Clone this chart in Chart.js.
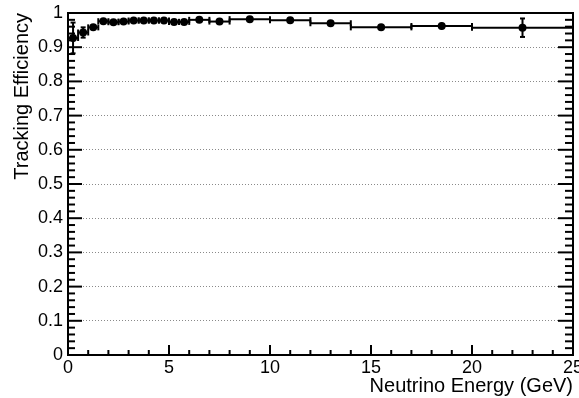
<!DOCTYPE html>
<html><head><meta charset="utf-8">
<script src="https://cdn.jsdelivr.net/npm/chart.js@4/dist/chart.umd.min.js"></script>
<style>html,body{margin:0;padding:0;background:#fff;overflow:hidden}</style>
</head><body>
<canvas id="c" width="579" height="398"></canvas>
<script>
// Bin edges (GeV)
const binLow  = [0,0.5,1,1.5,2,2.5,3,3.5,4,4.5,5,5.5,6,7,8,10,12,14,17,20];
const binHigh = [0.5,1,1.5,2,2.5,3,3.5,4,4.5,5,5.5,6,7,8,10,12,14,17,20,25];
const binCenter = [0.25,0.75,1.25,1.75,2.25,2.75,3.25,3.75,4.25,4.75,5.25,5.75,6.5,7.5,9,11,13,15.5,18.5,22.5];
// Tracking efficiency and its error
const efficiency = [0.927,0.943,0.958,0.976,0.973,0.975,0.978,0.978,0.978,0.978,0.974,0.974,0.980,0.975,0.982,0.979,0.970,0.958,0.962,0.957];
const effError   = [0.045,0.015,0.008,0.005,0.004,0.004,0.004,0.004,0.004,0.004,0.004,0.004,0.004,0.004,0.004,0.005,0.008,0.008,0.010,0.027];
// Tick labels
const xTickLabels = ['0','5','10','15','20','25'];
const yTickLabels = ['0','0.1','0.2','0.3','0.4','0.5','0.6','0.7','0.8','0.9','1'];

const FONT = 'Liberation Sans, Arial, Helvetica, sans-serif';

function line(ctx,x1,y1,x2,y2){ctx.beginPath();ctx.moveTo(x1,y1);ctx.lineTo(x2,y2);ctx.stroke();}

const rootStyle = {
  id: 'rootStyle',
  beforeDatasetsDraw(chart){
    const {ctx, scales:{x,y}} = chart;
    ctx.save();
    ctx.strokeStyle = '#000';
    ctx.lineWidth = 2;
    for (let i=0;i<binCenter.length;i++){
      const py = y.getPixelForValue(efficiency[i]);
      const x1 = x.getPixelForValue(binLow[i]);
      const x2 = x.getPixelForValue(binHigh[i]);
      const xc = x.getPixelForValue(binCenter[i]);
      line(ctx,x1,py,x2,py);
      line(ctx,x1,py-3,x1,py+3);
      line(ctx,x2,py-3,x2,py+3);
      const yHi = y.getPixelForValue(Math.min(1, efficiency[i]+effError[i]));
      const yLo = y.getPixelForValue(efficiency[i]-effError[i]);
      line(ctx,xc,yHi,xc,yLo);
      if (yLo-py > 5){
        line(ctx,xc-2.5,yHi,xc+2.5,yHi);
        line(ctx,xc-2.5,yLo,xc+2.5,yLo);
      }
    }
    ctx.restore();
  },
  afterDraw(chart){
    const {ctx, chartArea:{left,right,top,bottom}, scales:{x,y}} = chart;
    ctx.save();
    ctx.strokeStyle = '#000';
    ctx.lineWidth = 2;
    for (let i=0;i<=50;i++){
      const py = y.getPixelForValue(i/50);
      const major = i%5===0;
      line(ctx,left,py,left+(major?14:7),py);
      line(ctx,right,py,right-(major?15:8),py);
    }
    for (let i=0;i<=25;i++){
      const px = x.getPixelForValue(i);
      const major = i%5===0;
      line(ctx,px,bottom,px,bottom-(major?10:5));
    }
    ctx.strokeRect(left,top,right-left,bottom-top);
    ctx.restore();
  }
};

new Chart(document.getElementById('c'), {
  type: 'scatter',
  data: {
    datasets: [{
      data: binCenter.map((c,i)=>({x:c, y:efficiency[i]})),
      backgroundColor: '#000',
      borderWidth: 0,
      pointRadius: 4,
      showLine: false
    }]
  },
  options: {
    responsive: false,
    animation: false,
    devicePixelRatio: 1,
    layout: {padding: {left:0, right:6, top:13, bottom:0}},
    plugins: {legend:{display:false}, tooltip:{enabled:false}},
    scales: {
      x: {
        type: 'linear', min: 0, max: 25,
        grid: {display:false, drawTicks:false},
        border: {display:false},
        ticks: {
          stepSize: 5, padding: 2, color: '#000', maxRotation: 0, autoSkip: false,
          font: {family: FONT, size: 18},
          callback: (v)=> xTickLabels[Math.round(v/5)] ?? ''
        },
        title: {display:true, text:'Neutrino Energy (GeV)', align:'end', color:'#000',
                font:{family: FONT, size: 20}, padding:{top:0,bottom:0}},
        afterFit(s){ s.height = 43; s.paddingLeft = 0; s.paddingRight = 0; }
      },
      y: {
        type: 'linear', min: 0, max: 1,
        grid: {drawTicks:false, lineWidth:1,
               color: (c)=> (c.tick && (c.tick.value===0 || c.tick.value===1)) ? 'rgba(0,0,0,0)' : '#8a8a8a'},
        border: {display:false, dash:[1,2]},
        ticks: {
          stepSize: 0.1, padding: 5, color: '#000',
          font: {family: FONT, size: 18},
          callback: (v)=> yTickLabels[Math.round(v*10)] ?? ''
        },
        title: {display:true, text:'Tracking Efficiency', align:'end', color:'#000',
                font:{family: FONT, size: 20}, padding:{top:10,bottom:0}},
        afterFit(s){ s.width = 68; s.paddingTop = 0; s.paddingBottom = 0; }
      }
    }
  },
  plugins: [rootStyle]
});
</script>
</body></html>
